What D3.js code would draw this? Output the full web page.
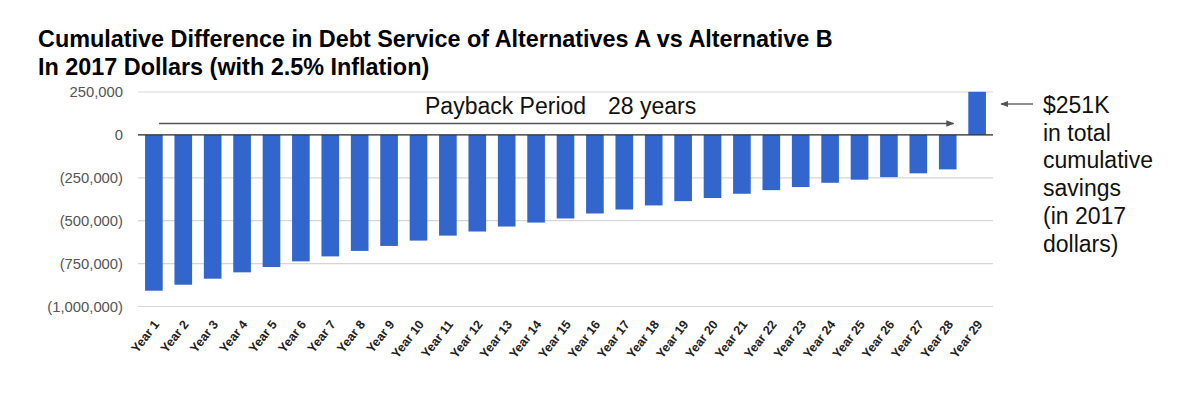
<!DOCTYPE html>
<html>
<head>
<meta charset="utf-8">
<script src="https://cdn.jsdelivr.net/npm/d3@7"></script>
<style>
  body { margin: 0; background: #fff; font-family: "Liberation Sans", Arial, sans-serif; }
</style>
</head>
<body>
<div id="chart"></div>
<script>
// data (cumulative difference, 2017 dollars)
const years = d3.range(1, 30).map(i => "Year " + i);
const values = [
  -908000, -873000, -838000, -801000, -770000, -737000, -708000, -676000, -647000, -616000,
  -587000, -563000, -534000, -511000, -487000, -458000, -435000, -411000, -386000, -368000,
  -343000, -322000, -304000, -279000, -261000, -246000, -224000, -201000, 251000
];
const yTicks = [250000, 0, -250000, -500000, -750000, -1000000];
const titleLines = [
  "Cumulative Difference in Debt Service of Alternatives A vs Alternative B",
  "In 2017 Dollars (with 2.5% Inflation)"
];
const noteLines = ["$251K", "in total", "cumulative", "savings", "(in 2017", "dollars)"];

const width = 1200, height = 404;
const plotLeft = 138, plotRight = 993, plotTop = 92, plotBottom = 306.5;

const svg = d3.select("#chart").append("svg")
  .attr("width", width)
  .attr("height", height);

// title
svg.append("g").selectAll("text")
  .data(titleLines)
  .enter().append("text")
  .attr("x", 38)
  .attr("y", (d, i) => 47 + i * 27.5)
  .attr("font-size", 23.4)
  .attr("font-weight", "bold")
  .attr("fill", "#000")
  .text(d => d);

// scales
const x = d3.scaleBand()
  .domain(years)
  .range([plotLeft, plotRight])
  .paddingInner(0.4)
  .paddingOuter(0.24);

const y = d3.scaleLinear()
  .domain([-1000000, 250000])
  .range([plotBottom, plotTop]);

const fmt = v => v < 0 ? "(" + d3.format(",")(-v) + ")" : d3.format(",")(v);

// gridlines
svg.append("g").selectAll("line")
  .data(yTicks)
  .enter().append("line")
  .attr("x1", plotLeft).attr("x2", plotRight)
  .attr("y1", d => y(d)).attr("y2", d => y(d))
  .attr("stroke", "#d6d6d6")
  .attr("stroke-width", 1.2);

// y axis labels
const yAxis = svg.append("g")
  .attr("transform", `translate(${plotLeft},0)`)
  .call(d3.axisLeft(y).tickValues(yTicks).tickFormat(fmt).tickSize(0).tickPadding(15));
yAxis.select(".domain").remove();
yAxis.selectAll("text")
  .attr("font-family", "Liberation Sans, Arial, sans-serif")
  .attr("font-size", 14.8)
  .attr("fill", "#555");

// bars
svg.selectAll(".bar")
  .data(values)
  .enter().append("rect")
  .attr("class", "bar")
  .attr("x", (d, i) => x(years[i]))
  .attr("y", d => y(Math.max(0, d)))
  .attr("width", x.bandwidth())
  .attr("height", d => Math.abs(y(d) - y(0)))
  .attr("fill", "#3366cc");

// zero line
svg.append("line")
  .attr("x1", plotLeft).attr("x2", plotRight)
  .attr("y1", y(0)).attr("y2", y(0))
  .attr("stroke", "#333")
  .attr("stroke-width", 1.2);

// x axis labels (slanted)
const xAxis = svg.append("g")
  .attr("transform", `translate(0,${plotBottom})`)
  .call(d3.axisBottom(x).tickSize(0).tickPadding(0));
xAxis.select(".domain").remove();
xAxis.selectAll("text")
  .attr("font-family", "Liberation Sans, Arial, sans-serif")
  .attr("font-size", 12.5)
  .attr("font-weight", "bold")
  .attr("fill", "#222")
  .attr("text-anchor", "end")
  .attr("dy", null)
  .attr("transform", "translate(6,18) rotate(-52)");

// arrow markers
const defs = svg.append("defs");
defs.append("marker")
  .attr("id", "head")
  .attr("viewBox", "0 0 10 10")
  .attr("refX", 9).attr("refY", 5)
  .attr("markerWidth", 8).attr("markerHeight", 8)
  .attr("markerUnits", "userSpaceOnUse")
  .attr("orient", "auto")
  .append("path")
  .attr("d", "M0,1 L10,5 L0,9 Z")
  .attr("fill", "#555");

// payback period arrow
const paybackY = 123.5;
svg.append("line")
  .attr("x1", x(years[0]) + 14)
  .attr("x2", x(years[27]) + x.bandwidth() - 3)
  .attr("y1", paybackY).attr("y2", paybackY)
  .attr("stroke", "#555")
  .attr("stroke-width", 1.3)
  .attr("marker-end", "url(#head)");

svg.append("text")
  .attr("x", 425).attr("y", 114)
  .attr("font-size", 23)
  .attr("fill", "#111")
  .text("Payback Period");
svg.append("text")
  .attr("x", 608).attr("y", 114)
  .attr("font-size", 23)
  .attr("fill", "#111")
  .text("28 years");

// savings note
svg.append("line")
  .attr("x1", 1033).attr("x2", 1001)
  .attr("y1", 104).attr("y2", 104)
  .attr("stroke", "#555")
  .attr("stroke-width", 1.3)
  .attr("marker-end", "url(#head)");

svg.append("g").selectAll("text")
  .data(noteLines)
  .enter().append("text")
  .attr("x", 1043)
  .attr("y", (d, i) => 113 + i * 27.7)
  .attr("font-size", 23)
  .attr("fill", "#111")
  .text(d => d);
</script>
</body>
</html>
